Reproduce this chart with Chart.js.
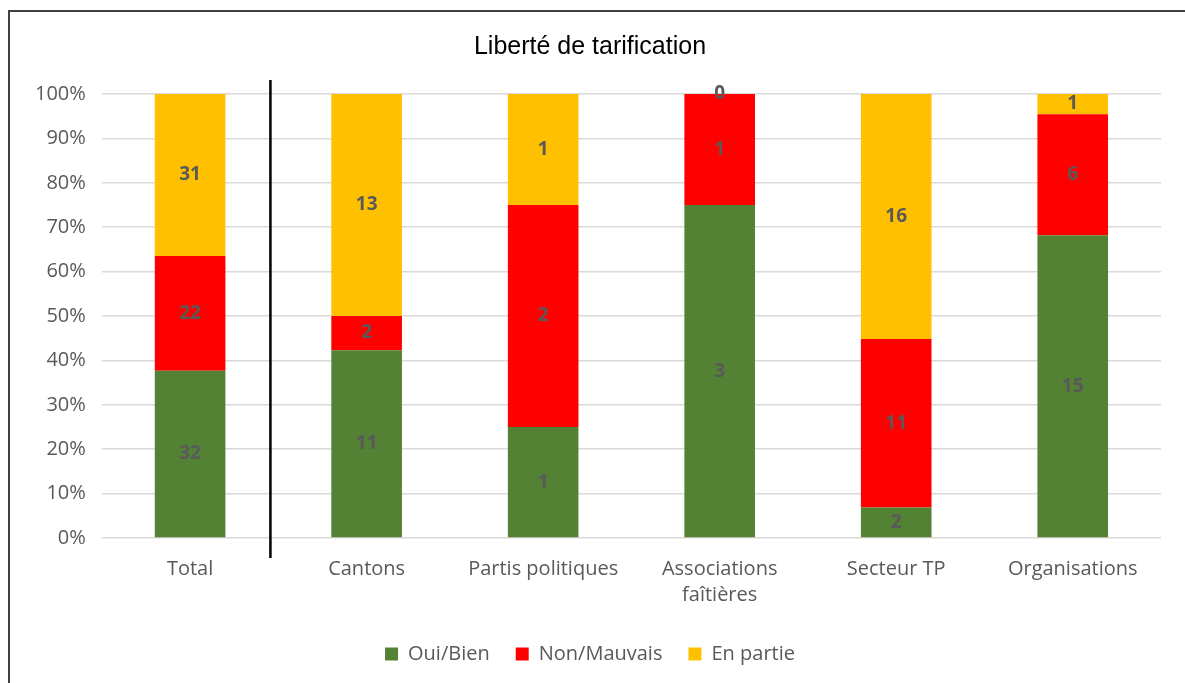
<!DOCTYPE html>
<html>
<head>
<meta charset="utf-8">
<script src="https://cdn.jsdelivr.net/npm/chart.js@4/dist/chart.umd.min.js"></script>
<style>
  html,body{margin:0;padding:0;background:#fff;}
  #wrap{position:absolute;left:8px;top:10px;width:1185px;height:683px;border-left:2px solid #404040;border-top:2px solid #404040;box-sizing:border-box;}
  #box{position:absolute;left:0;top:0;width:1185px;height:683px;}
</style>
</head>
<body>
<div id="wrap"></div>
<div id="box"><canvas id="c"></canvas></div>
<script>
// Données
const categories = ['Total','Cantons','Partis politiques',['Associations','faîtières'],'Secteur TP','Organisations'];
const ouiBien    = [32, 11, 1, 3, 2, 15];
const nonMauvais = [22, 2, 2, 1, 11, 6];
const enPartie   = [31, 13, 1, 0, 16, 1];
const yTicks     = [0,10,20,30,40,50,60,70,80,90,100];

const totals = ouiBien.map((v,i)=>v+nonMauvais[i]+enPartie[i]);
const pct = arr => arr.map((v,i)=>v/totals[i]*100);

// Étiquettes de valeurs au centre des barres
const valueLabels = {
  id:'valueLabels',
  afterDatasetsDraw(chart){
    const ctx = chart.ctx;
    ctx.save();
    ctx.font = 'bold 19px "Open Sans", sans-serif';
    ctx.fillStyle = '#595959';
    ctx.textAlign = 'center';
    ctx.textBaseline = 'middle';
    chart.data.datasets.forEach((ds,di)=>{
      chart.getDatasetMeta(di).data.forEach((bar,i)=>{
        const y = (bar.y + bar.base)/2;
        ctx.fillText(String(ds.raw[i]), bar.x, y);
      });
    });
    ctx.restore();
  }
};

// Séparateur vertical entre Total et les groupes
const separator = {
  id:'separator',
  afterDraw(chart){
    const xs = chart.scales.x, ys = chart.scales.y;
    const x = xs.getPixelForValue(0) + (xs.getPixelForValue(1)-xs.getPixelForValue(0))*0.455;
    const ctx = chart.ctx;
    ctx.save();
    ctx.strokeStyle = '#000';
    ctx.lineWidth = 2.5;
    ctx.beginPath();
    ctx.moveTo(x, ys.top - 14);
    ctx.lineTo(x, ys.bottom + 20);
    ctx.stroke();
    ctx.restore();
  }
};

new Chart(document.getElementById('c'), {
  type:'bar',
  data:{
    labels: categories,
    datasets:[
      {label:'Oui/Bien',    data:pct(ouiBien),    raw:ouiBien,    backgroundColor:'#548235'},
      {label:'Non/Mauvais', data:pct(nonMauvais), raw:nonMauvais, backgroundColor:'#ff0000'},
      {label:'En partie',   data:pct(enPartie),   raw:enPartie,   backgroundColor:'#ffc000'}
    ]
  },
  options:{
    responsive:true, maintainAspectRatio:false, animation:false,
    layout:{padding:{left:19,right:24,top:6,bottom:9}},
    datasets:{bar:{categoryPercentage:1, barPercentage:0.4}},
    scales:{
      x:{stacked:true, grid:{display:false}, border:{display:false},
         ticks:{color:'#595959', font:{size:20, family:'"Open Sans", sans-serif', lineHeight:1.3}, maxRotation:0, padding:10}},
      y:{stacked:true, min:0, max:100,
         afterBuildTicks: ax => { ax.ticks = yTicks.map(v=>({value:v})); },
         grid:{color:'#d9d9d9', lineWidth:1.5, drawTicks:false}, border:{display:false},
         ticks:{color:'#595959', font:{size:20, family:'"Open Sans", sans-serif'}, padding:16, callback:v=>v+'%'}}
    },
    plugins:{
      title:{display:true, text:'Liberté de tarification', color:'#000',
             font:{size:25, weight:'normal', family:'"Liberation Sans", Arial, sans-serif'}, padding:{top:26,bottom:32}},
      legend:{position:'bottom', labels:{boxWidth:13, boxHeight:13, color:'#595959', padding:26,
             font:{size:20, family:'"Open Sans", sans-serif'}}},
      tooltip:{enabled:false}
    }
  },
  plugins:[valueLabels, separator]
});
</script>
</body>
</html>
